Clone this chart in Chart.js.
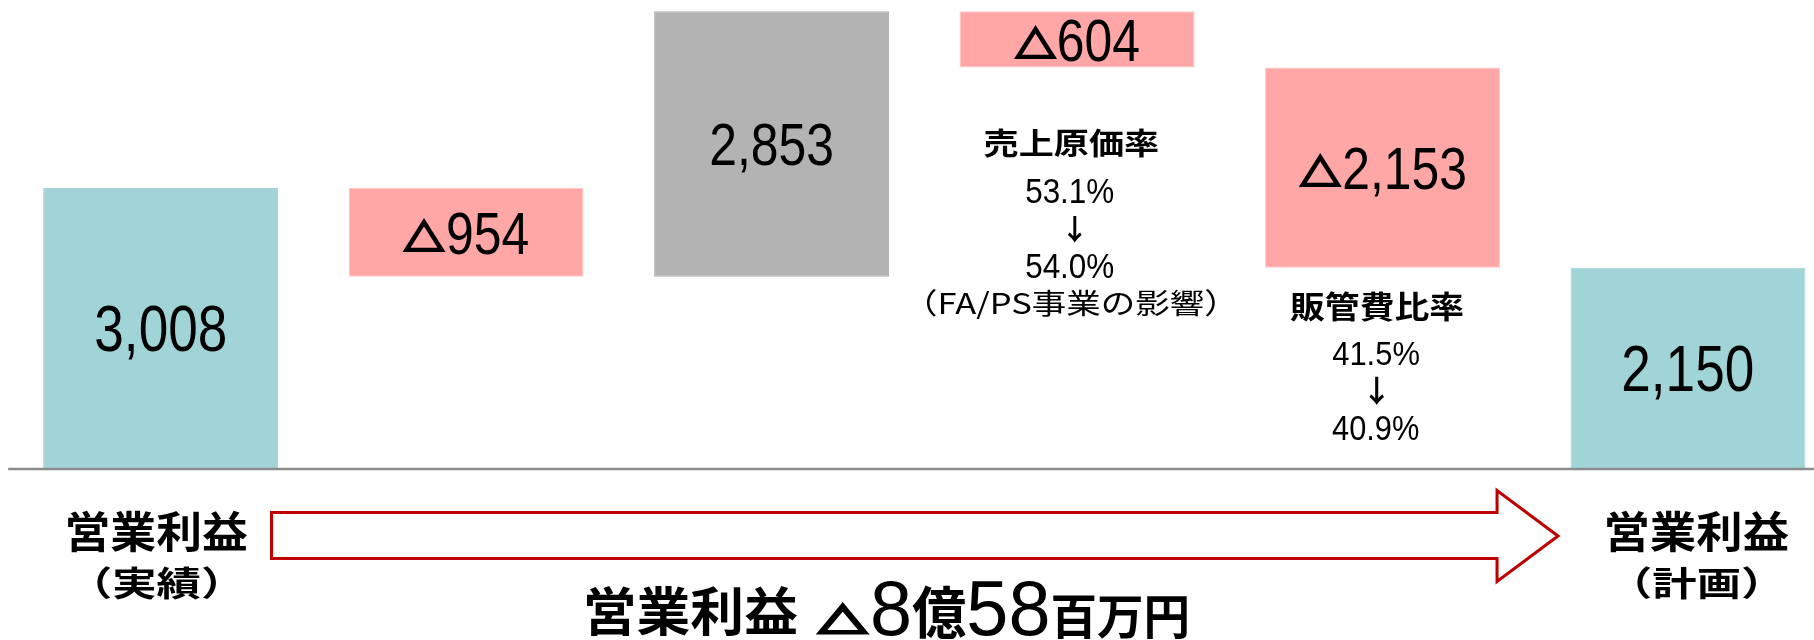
<!DOCTYPE html>
<html><head><meta charset="utf-8">
<script src="https://cdn.jsdelivr.net/npm/chart.js@4"></script>
<style>html,body{margin:0;padding:0;background:#fff;overflow:hidden}canvas{display:block}</style>
</head><body>
<canvas id="c" width="1814" height="640" style="width:1814px;height:640px"></canvas>
<script>
// ---- data ----
const categories = ['営業利益（実績）', '', '', '売上原価率', '販管費比率', '営業利益（計画）'];
const changes = [3008, -954, 2853, -604, -2153, 2150];
const kinds = ['total', 'delta', 'delta', 'delta', 'delta', 'total'];
const startLabel = ['営業利益', '（実績）'];
const endLabel = ['営業利益', '（計画）'];
const costNote = ['売上原価率', '53.1%', '↓', '54.0%', '（FA/PS事業の影響）'];
const sgaNote = ['販管費比率', '41.5%', '↓', '40.9%'];
const summaryParts = ['営業利益', '△', '8', '億', '58', '百万円'];

// ---- derived ----
let running = 0;
const ranges = changes.map((v, i) => {
  if (kinds[i] === 'total') { running = v; return [0, v]; }
  const s = running; running += v;
  return [Math.min(s, running), Math.max(s, running)];
});
const TEAL = '#A0D4D7', PINK = '#FFA7A7', GRAY = '#B3B3B3';
const barColors = changes.map((v, i) => kinds[i] === 'total' ? TEAL : (v < 0 ? PINK : GRAY));
const barBorders = changes.map((v, i) => kinds[i] === 'total' ? TEAL : (v < 0 ? '#FFC6C6' : GRAY));
const fmt = n => Math.abs(n).toLocaleString('en-US');
const valueNeg = changes.map((v, i) => kinds[i] !== 'total' && v < 0);
const valueText = changes.map(v => fmt(v));

const CJK = "'Noto Sans CJK JP', 'Noto Sans CJK SC', sans-serif";
const LAT = "'Liberation Sans', Arial, 'Noto Sans CJK JP', sans-serif";

// draw text so that its ink fits a box (top..bottom, optional width), centred on cx
function inkBox(ctx, text, family, weight, cx, top, bottom, width, sw) {
  sw = sw || 0;
  top += sw / 2; bottom -= sw / 2; if (width) width -= sw;
  ctx.font = `${weight} 100px ${family}`;
  let m = ctx.measureText(text);
  const h = m.actualBoundingBoxAscent + m.actualBoundingBoxDescent;
  const size = 100 * (bottom - top) / h;
  ctx.font = `${weight} ${size}px ${family}`;
  m = ctx.measureText(text);
  const inkW = m.actualBoundingBoxLeft + m.actualBoundingBoxRight;
  const sx = width ? width / inkW : 1;
  ctx.save();
  ctx.translate(cx, bottom - m.actualBoundingBoxDescent);
  ctx.scale(sx, 1);
  ctx.textAlign = 'left'; ctx.textBaseline = 'alphabetic';
  const x = -(m.actualBoundingBoxRight - m.actualBoundingBoxLeft) / 2;
  ctx.fillText(text, x, 0);
  if (sw) {
    ctx.lineWidth = sw; ctx.lineJoin = 'miter'; ctx.strokeStyle = ctx.fillStyle;
    ctx.strokeText(text, x, 0);
  }
  ctx.restore();
}

// value label: optional bold triangle prefix + condensed digits, centred on (cx, cy)
function valueLabel(ctx, text, neg, size, sx, cx, cy) {
  ctx.font = `normal ${size}px ${LAT}`;
  const m = ctx.measureText(text);
  const cap = 0.716 * size;
  const dW = (m.actualBoundingBoxLeft + m.actualBoundingBoxRight) * sx;
  const triH = 0.78 * cap, triW = 1.24 * triH, gap = 3;
  const total = dW + (neg ? triW + gap : 0);
  let x = cx - total / 2;
  const baseline = cy + cap / 2;
  if (neg) {
    inkBox(ctx, '△', CJK, 'bold', x + triW / 2, baseline - 1.5 - triH, baseline - 1.5, triW, 2.6);
    x += triW + gap;
  }
  ctx.font = `normal ${size}px ${LAT}`;
  ctx.save();
  ctx.translate(x, baseline);
  ctx.scale(sx, 1);
  ctx.textAlign = 'left'; ctx.textBaseline = 'alphabetic';
  ctx.fillText(text, m.actualBoundingBoxLeft, 0);
  ctx.restore();
}

const decor = {
  id: 'decor',
  afterDatasetsDraw(chart) {
    const ctx = chart.ctx;
    const bars = chart.getDatasetMeta(0).data;
    const area = chart.chartArea;
    const W = chart.width;
    ctx.save();
    // baseline
    ctx.strokeStyle = '#8C8C8C';
    ctx.lineWidth = 2.5;
    ctx.beginPath();
    ctx.moveTo(bars[0].x - bars[0].width / 2 - 35, area.bottom + 1);
    ctx.lineTo(W, area.bottom + 1);
    ctx.stroke();

    // value labels
    ctx.fillStyle = '#000';
    bars.forEach((b, i) => {
      const cy = (b.y + b.base) / 2;
      const big = kinds[i] === 'total';
      valueLabel(ctx, valueText[i], valueNeg[i], big ? 65.6 : 59.4, big ? 0.81 : 0.84, b.x, cy);
    });

    // cost note under bar 4
    const b3 = bars[3].x, b4 = bars[4].x;
    inkBox(ctx, costNote[0], CJK, 'bold', b3 - 6, 130, 158.3, 175);
    inkBox(ctx, costNote[1], LAT, 'normal', b3 - 7, 178.3, 203.3, 88);
    inkBox(ctx, costNote[2], CJK, 'bold', b3 - 2, 216.7, 243.3, null);
    inkBox(ctx, costNote[3], LAT, 'normal', b3 - 7, 253.3, 278.3, 88);
    inkBox(ctx, costNote[4], CJK, 'normal', b3 - 6, 290, 320, 288);
    // sga note under bar 5
    inkBox(ctx, sgaNote[0], CJK, 'bold', b4 - 6, 291.7, 321.7, 173);
    inkBox(ctx, sgaNote[1], LAT, 'normal', b4 - 7, 341.7, 365, 86.6);
    inkBox(ctx, sgaNote[2], CJK, 'bold', b4 - 6, 376.7, 405, null);
    inkBox(ctx, sgaNote[3], LAT, 'normal', b4 - 7, 415, 440, 87);

    // bottom labels
    const x0 = bars[0].x, x5 = bars[5].x;
    inkBox(ctx, startLabel[0], CJK, 'bold', x0 - 3, 511.7, 553.3, 180);
    inkBox(ctx, startLabel[1], CJK, 'bold', x0 - 4, 567, 600, 120);
    inkBox(ctx, endLabel[0], CJK, 'bold', x5 + 9.5, 511.7, 552.7, 181.6);
    inkBox(ctx, endLabel[1], CJK, 'bold', x5 + 8.7, 567, 600, 120);

    // arrow
    const L = bars[0].x + bars[0].width / 2 - 6.5;
    const tip = bars[5].x - bars[5].width / 2 - 12.5;
    const neck = tip - 61;
    const yb = area.bottom;
    ctx.beginPath();
    ctx.moveTo(L, yb + 44.5);
    ctx.lineTo(neck, yb + 44.5);
    ctx.lineTo(neck, yb + 22.5);
    ctx.lineTo(tip, yb + 68);
    ctx.lineTo(neck, yb + 113.5);
    ctx.lineTo(neck, yb + 90.5);
    ctx.lineTo(L, yb + 90.5);
    ctx.closePath();
    ctx.fillStyle = '#fff';
    ctx.fill();
    ctx.strokeStyle = '#C00000';
    ctx.lineWidth = 3;
    ctx.lineJoin = 'miter';
    ctx.stroke();

    // summary line
    ctx.fillStyle = '#000';
    inkBox(ctx, summaryParts[0], CJK, 'bold', 692.4, 586.7, 636.7, 211);
    inkBox(ctx, summaryParts[1], CJK, 'bold', 843, 604, 635, 50, 3.2);
    const segs = [
      {t: summaryParts[2], f: LAT, w: 'normal', s: 78, base: 635},
      {t: summaryParts[3], f: CJK, w: 'bold', s: 56, base: 633},
      {t: summaryParts[4], f: LAT, w: 'normal', s: 78, base: 635},
      {t: summaryParts[5], f: CJK, w: 'bold', s: 48, base: 634},
    ];
    let total = 0;
    segs.forEach(g => { ctx.font = `${g.w} ${g.s}px ${g.f}`; g.adv = ctx.measureText(g.t).width; total += g.adv; });
    const left = 870, right = 1190;
    const sx = (right - left) / total;
    let x = left;
    segs.forEach(g => {
      ctx.font = `${g.w} ${g.s}px ${g.f}`;
      ctx.save();
      ctx.translate(x, g.base);
      ctx.scale(sx, 1);
      ctx.textAlign = 'left'; ctx.textBaseline = 'alphabetic';
      ctx.fillText(g.t, 0, 0);
      ctx.restore();
      x += g.adv * sx;
    });
    ctx.restore();
  }
};

new Chart(document.getElementById('c'), {
  type: 'bar',
  data: {
    labels: categories,
    datasets: [{
      data: ranges,
      backgroundColor: barColors,
      borderColor: barBorders,
      borderWidth: 1,
      borderSkipped: false,
      barPercentage: 0.769,
      categoryPercentage: 1,
      clip: false
    }]
  },
  options: {
    responsive: false,
    animation: false,
    devicePixelRatio: 1,
    layout: {padding: {left: 160.6, right: 126, top: 0, bottom: 172}},
    plugins: {legend: {display: false}, tooltip: {enabled: false}, title: {display: false}},
    scales: {
      x: {display: false, offset: false},
      y: {display: false, min: 0, max: 5027.6}
    }
  },
  plugins: [decor]
});
</script>
</body></html>
